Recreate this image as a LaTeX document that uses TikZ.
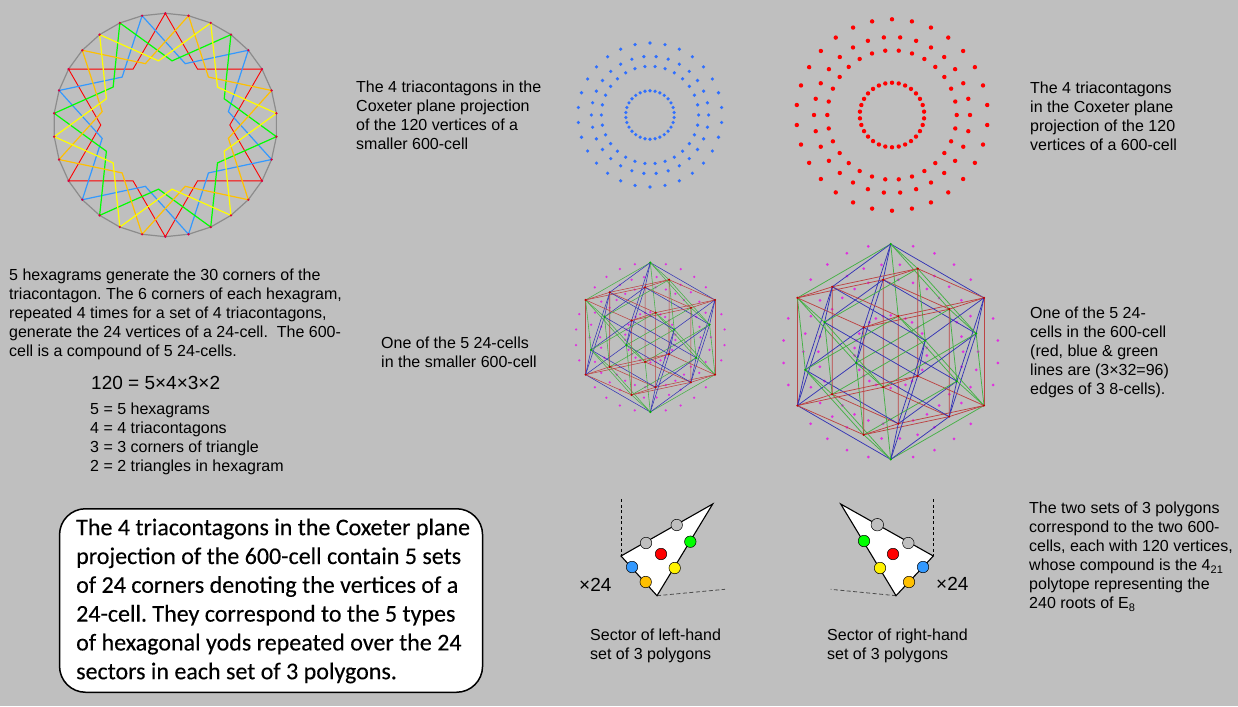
\documentclass[tikz,border=0pt]{standalone}
\usepackage{fontspec}
\setmainfont{Liberation Sans}
\newfontfamily\lib{Liberation Sans}
\newfontfamily\boxfont{Carlito}[FakeBold=0.25]
\definecolor{bgc}{HTML}{BFBFBF}
\definecolor{hxzero}{HTML}{FF0000}
\definecolor{hxone}{HTML}{FFC000}
\definecolor{hxtwo}{HTML}{FFFF00}
\definecolor{hxthree}{HTML}{00FF00}
\definecolor{hxfour}{HTML}{3399FF}
\definecolor{cc0}{HTML}{BC4444}
\definecolor{cc1}{HTML}{45B045}
\definecolor{cc2}{HTML}{3535B5}
\definecolor{magdot}{HTML}{E030E0}
\definecolor{bdot}{HTML}{2F6FFF}
\definecolor{polygrey}{HTML}{8C8C8C}
\newcommand{\fs}{\lib\frenchspacing\fontsize{16}{19}\selectfont}
\newcommand{\fb}{\rule{0pt}{11pt}}
\newcommand{\subt}[1]{\raisebox{-3pt}{\fontsize{11}{11}\selectfont #1}}
\tikzset{
  textblock/.style={inner sep=0pt,anchor=north west,align=left,font=\fs,text=black},
  bigtext/.style={inner sep=0pt,anchor=base west,font=\lib\fontsize{19}{19}\selectfont,text=black},
  secpoly/.style={fill=white,draw=black,line width=1.1pt,line join=miter},
  yod/.style={circle,draw=black,line width=0.5pt,inner sep=0pt,minimum size=#1},
  yod/.default=11.5pt,
  dashleft/.style={black,dashed,line width=0.8pt,dash pattern=on 3pt off 2.5pt},
  dashlow/.style={black!70,dashed,line width=0.8pt,dash pattern=on 4pt off 2.5pt},
}
% rings of the 120 vertices: #1 cx, #2 cy, #3 radius, #4 dot radius, #5 colour
\newcommand{\ringdots}[5]{%
  \foreach \k in {0,...,29}{%
    \pgfmathsetmacro\ta{12*\k}\pgfmathsetmacro\tb{12*\k+6}%
    \fill[#5] ({#1+#3*sin(\ta)},{#2-#3*cos(\ta)}) circle (#4);
    \fill[#5] ({#1+#3*.337*sin(\ta)},{#2-#3*.337*cos(\ta)}) circle (#4);
    \fill[#5] ({#1+#3*.815*sin(\tb)},{#2-#3*.815*cos(\tb)}) circle (#4);
    \fill[#5] ({#1+#3*.676*sin(\tb)},{#2-#3*.676*cos(\tb)}) circle (#4);
  }}
% 24-cell figure: #1 prefix, #2 cx, #3 cy, #4 R, #5 magenta dot radius, #6 line width
\newcommand{\cellfig}[6]{%
  \foreach \k in {0,...,29}{%
    \pgfmathtruncatemacro\q{mod(\k,5)}%
    \pgfmathsetmacro\ta{12*\k}\pgfmathsetmacro\tb{12*\k+6}%
    \ifnum\q=0\else\fill[magdot] ({#2+#4*sin(\ta)},{#3-#4*cos(\ta)}) circle (#5);\fi
    \ifnum\q=1\else\fill[magdot] ({#2+#4*.337*sin(\ta)},{#3-#4*.337*cos(\ta)}) circle (#5);\fi
    \ifnum\q=1\else\fill[magdot] ({#2+#4*.811*sin(\tb)},{#3-#4*.811*cos(\tb)}) circle (#5);\fi
    \ifnum\q=4\else\fill[magdot] ({#2+#4*.672*sin(\tb)},{#3-#4*.672*cos(\tb)}) circle (#5);\fi
  }
  \foreach \j in {0,...,5}{%
    \coordinate (#1A\j) at ({#2+#4*sin(60*\j)},{#3-#4*cos(60*\j)});
    \coordinate (#1B\j) at ({#2+#4*.811*sin(18+60*\j)},{#3-#4*.811*cos(18+60*\j)});
    \coordinate (#1C\j) at ({#2+#4*.672*sin(-6+60*\j)},{#3-#4*.672*cos(-6+60*\j)});
    \coordinate (#1D\j) at ({#2+#4*.337*sin(12+60*\j)},{#3-#4*.337*cos(12+60*\j)});
  }
  \foreach \j in {0,...,5}{%
    \foreach \pa/\da/\pb/\db/\mm in {A/0/A/1/2,B/0/B/1/1,C/0/C/1/0,D/0/D/1/1,
      A/0/B/0/1,A/1/B/0/0,A/0/C/0/2,A/0/C/1/1,A/0/D/0/1,A/1/D/0/0,
      B/0/C/0/0,B/1/C/0/2,B/0/D/1/1,B/0/D/2/0,C/0/D/4/2,C/0/D/3/0}{%
      \pgfmathtruncatemacro\ia{mod(\j+\da,6)}%
      \pgfmathtruncatemacro\ib{mod(\j+\db,6)}%
      \pgfmathtruncatemacro\mc{mod(\j+\mm,3)}%
      \draw[cc\mc,line width=#6] (#1\pa\ia) -- (#1\pb\ib);
    }
  }
  \foreach \j in {0,...,5}{%
    \pgfmathtruncatemacro\r{mod(\j,3)}%
    \ifnum\r=0\def\ca{green!70!black}\else\def\ca{red!75!black}\fi
    \ifnum\r=1\def\cb{green!70!black}\else\def\cb{red!75!black}\fi
    \ifnum\r=2\def\cc{green!70!black}\else\def\cc{red!75!black}\fi
    \fill[\ca] (#1A\j) circle (1.2);
    \fill[\cb] (#1B\j) circle (1.2);
    \fill[\cc] (#1C\j) circle (1.2);
    \fill[\cb] (#1D\j) circle (1.2);
  }}
\begin{document}
\begin{tikzpicture}[x=1pt,y=-1pt]
\useasboundingbox (0,0) rectangle (1238,706);
\fill[bgc] (0,0) rectangle (1238,706);

% triacontagon with five hexagrams
\foreach \k in {0,...,29}{%
  \coordinate (T\k) at ({165.3+111.7*sin(12*\k)},{125-111.7*cos(12*\k)});
}
\draw[polygrey,line width=1.2pt] (T0) \foreach \k in {1,...,29}{ -- (T\k)} -- cycle;
\foreach \c/\col/\w in {0/hxzero/0.9pt,4/hxfour/1.2pt,3/hxthree/1.2pt,1/hxone/1.2pt,2/hxtwo/1.2pt}{%
  \draw[\col,line width=\w,line join=miter]
    \foreach \j in {0,...,5}{%
      \ifnum\j=0 ({165.3+111.7*sin(12*\c)},{125-111.7*cos(12*\c)})\else
       -- ({165.3+111.7*sin(12*\c+60*\j)},{125-111.7*cos(12*\c+60*\j)})\fi
       -- ({165.3+64.5*sin(12*\c+60*\j+30)},{125-64.5*cos(12*\c+60*\j+30)})
    } -- cycle;
}
\foreach \k in {0,...,29}{\fill[red!70!magenta!85!black] (T\k) circle (1.3);}

% coxeter plane dots
\ringdots{650}{115}{72}{1.8}{bdot}
\ringdots{892}{115}{95.7}{2.2}{red}

% 24-cell figures
\cellfig{s}{650.3}{337.3}{74.7}{1.25}{0.55pt}
\cellfig{l}{890.7}{351.7}{107.7}{1.5}{0.75pt}

% sectors
\coordinate (la) at (712.7,504);
\coordinate (lb) at (621,556);
\coordinate (lc) at (657,595.7);
\coordinate (ld) at (621,499.3);
\coordinate (le) at (725,589.3);
\draw[dashleft] (ld) -- (lb);
\draw[dashlow] (lc) -- (le);
\draw[secpoly] (la) -- (lb) -- (lc) -- cycle;
\node[yod,fill=black!25] (lg1) at (676.7,525) {};
\node[yod,fill=black!25] (lg2) at (646,543) {};
\node[yod,fill=green] (lgr) at (690.3,541.7) {};
\node[yod,fill=red] (lrd) at (661,554) {};
\node[yod,fill=hxfour] (lbl) at (632,567) {};
\node[yod,fill=yellow] (lye) at (674.7,568) {};
\node[yod,fill=hxone] (lor) at (645.7,582) {};

\coordinate (ra) at (840.7,504);
\coordinate (rb) at (933.3,556);
\coordinate (rc) at (896,595.7);
\coordinate (rd) at (933.3,499.3);
\coordinate (re) at (830.7,589.3);
\draw[dashleft] (rd) -- (rb);
\draw[dashlow] (rc) -- (re);
\draw[secpoly] (ra) -- (rb) -- (rc) -- cycle;
\node[yod=12.5pt,fill=black!25] (rg1) at (877.3,524.7) {};
\node[yod,fill=black!25] (rg2) at (908.3,543) {};
\node[yod,fill=green] (rgr) at (864,541) {};
\node[yod,fill=red] (rrd) at (893,554) {};
\node[yod,fill=hxfour] (rbl) at (923,567) {};
\node[yod,fill=yellow] (rye) at (880,568) {};
\node[yod,fill=hxone] (ror) at (909,582) {};

\node[bigtext] (x1) at (579,591) {×24};
\node[bigtext] (x2) at (936,590) {×24};

% texts
\node[textblock] (t1) at (356,81) {\fb The 4 triacontagons in the\\Coxeter plane projection\\of the 120 vertices of a\\smaller 600-cell};
\node[textblock] (t2) at (1030,81.5) {\fb The 4 triacontagons\\in the Coxeter plane\\projection of the 120\\vertices of a 600-cell};
\node[textblock] (t3) at (381,337) {\fb One of the 5 24-cells\\in the smaller 600-cell};
\node[textblock] (t4) at (1030,307) {\fb One of the 5 24-\\cells in the 600-cell\\(red, blue \& green\\lines are (3×32=96)\\edges of 3 8-cells).};
\node[textblock] (t5) at (9,269) {\fb 5 hexagrams generate the 30 corners of the\\triacontagon. The 6 corners of each hexagram,\\repeated 4 times for a set of 4 triacontagons,\\generate the 24 vertices of a 24-cell.\ \ The 600-\\cell is a compound of 5 24-cells.};
\node[bigtext] (t6) at (91,389) {120 = 5×4×3×2};
\node[textblock] (t7) at (90,403) {\fb 5 = 5 hexagrams\\4 = 4 triacontagons\\3 = 3 corners of triangle\\2 = 2 triangles in hexagram};
\node[textblock] (t8) at (590,629) {\fb Sector of left-hand\\set of 3 polygons};
\node[textblock] (t9) at (827,629) {\fb Sector of right-hand\\set of 3 polygons};
\node[textblock] (t10) at (1029,502) {\fb The two sets of 3 polygons\\correspond to the two 600-\\cells, each with 120 vertices,\\whose compound is the 4\subt{21}\\polytope representing the\\240 roots of E\subt{8}};

\node[draw=black,fill=white,line width=1.5pt,rounded corners=26pt,minimum width=423pt,minimum height=183.5pt,inner sep=0pt,anchor=north west] (box) at (58.8,508) {};
\node[inner sep=0pt,anchor=north west,align=left,font=\boxfont\frenchspacing\fontsize{24}{28.8}\selectfont] (boxtext) at (76,517)
 {\rule{0pt}{18pt}The 4 triacontagons in the Coxeter plane\\projection of the 600-cell contain 5 sets\\of 24 corners denoting the vertices of a\\24-cell. They correspond to the 5 types\\of hexagonal yods repeated over the 24\\sectors in each set of 3 polygons.};
\end{tikzpicture}
\end{document}
